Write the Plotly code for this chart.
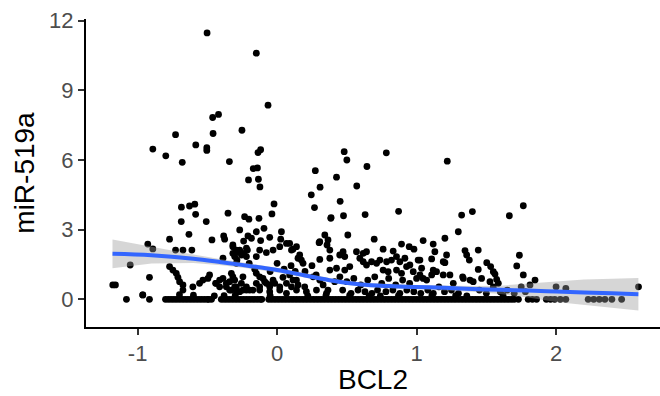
import plotly.graph_objects as go

# ---- points (BCL2 on x, miR-519a on y) ----
x_high = [-0.502, -0.149, -0.065, -0.42, -0.462, -0.728, -0.459, -0.252, -0.891, -0.798,
          -0.68, -0.583, -0.504, -0.504, -0.342, -0.137, -0.118, -0.171, -0.141, -0.205,
          -0.134, -0.123, 0.481, 0.5, 0.644, 0.783, 1.22, 0.274, 0.426, 0.308,
          0.571, 0.245, 0.452, 0.268, 0.387, 0.476, 0.631, 0.871, 1.323, 1.4,
          1.665, 1.765, -0.686, -0.628, -0.59, -0.022]
y_high = [11.47, 10.60, 8.36, 7.96, 7.83, 7.09, 7.14, 7.28, 6.47, 6.18,
          5.9, 6.65, 6.53, 6.41, 5.93, 6.32, 6.44, 5.63, 5.66, 5.14,
          5.17, 4.84, 6.36, 6.0, 5.72, 6.31, 5.95, 5.54, 5.26, 4.83,
          4.88, 4.5, 4.22, 3.95, 3.52, 3.6, 3.65, 3.79, 3.63, 3.78,
          3.6, 4.03, 3.97, 4.02, 4.1, 4.11]

x_mid = [-0.584, -0.687, -0.508, -0.352, -0.233, -0.202, -0.13, -0.037, -0.632, -0.771,
         -0.467, -0.383, -0.376, -0.268, -0.209, -0.149, -0.094, 0.031, -0.24, -0.184,
         -0.118, -0.053, -0.927, -0.891, -0.728, -0.675, -0.611, -0.317, -0.292, -0.268,
         -0.238, -0.213, -0.149, -0.125, -0.077, -0.029, 0.019, 0.067, 0.103, 0.139,
         -1.053, -0.388, -0.292, -0.317, -0.281, -0.317, -0.304, -0.288, 0.385, 0.026,
         0.342, 0.301, 0.365, 0.378, 0.507, 0.696, 1.047, 1.203, 1.299, 1.119,
         1.131, 1.191, 1.215, 0.114, 0.306, 0.358, 0.162, 0.174, 0.15, 0.186,
         0.306, 0.378, -0.256, -0.22, -0.22, 0.76, 0.832, 0.892, 0.947, 0.981,
         1.347, 1.359, 1.378, 1.442, 1.024, 1.108, 1.203, 1.503, 1.737, 0.449,
         0.473, 0.485, 0.569, 0.617, 0.641, 0.593, 0.617, 0.677, 0.713, 0.737,
         0.785, 0.82, 0.856, 0.88, 0.916, 0.952, 1.011, -0.2, 0.0, 0.1,
         0.25, 0.09]
y_mid = [3.66, 3.35, 3.35, 3.71, 3.56, 3.45, 3.49, 3.68, 2.8, 2.59,
         2.56, 2.73, 2.59, 2.99, 2.73, 2.91, 3.06, 2.91, 2.51, 2.63,
         2.53, 2.67, 2.38, 2.17, 2.12, 2.12, 2.12, 2.27, 2.12, 2.12,
         1.98, 2.12, 1.84, 2.12, 2.01, 2.12, 2.27, 2.41, 2.12, 2.27,
         1.48, 1.77, 1.55, 2.34, 2.05, 1.98, 1.84, 1.69, 3.49, 2.59,
         2.77, 2.44, 2.56, 2.12, 2.77, 2.59, 2.53, 2.63, 2.91, 2.38,
         2.05, 1.62, 1.91, 2.16, 2.48, 2.34, 1.91, 1.69, 1.77, 1.55,
         1.72, 1.77, 1.91, 1.84, 2.2, 2.16, 2.08, 2.38, 2.27, 2.16,
         2.1, 1.91, 1.69, 2.12, 1.69, 1.74, 1.58, 1.58, 1.9, 1.91,
         2.05, 1.84, 2.05, 1.98, 2.05, 1.77, 1.62, 1.62, 1.55, 1.69,
         1.62, 1.69, 1.84, 1.62, 1.77, 1.48, 1.69, 1.55, 1.55, 1.45,
         1.45, 2.41]

x_low = [-1.178, -1.159, -0.963, -0.915, -0.771, -0.747, -0.723, -0.711, -0.699, -0.675,
         -0.675, -0.604, -0.556, -0.532, -0.496, -0.484, -0.441, -0.412, -0.388, -0.364,
         -0.34, -0.317, -0.304, -0.34, -0.292, -0.256, -0.245, -0.328, -0.304, -0.436,
         -0.412, -0.364, -0.328, -0.292, -0.268, -0.22, -0.197, -0.149, -0.125, -0.089,
         -0.053, -0.017, 0.019, 0.067, 0.103, 0.139, -0.245, -0.149, -0.125, -0.101,
         -0.077, -0.053, -0.029, 0.042, 0.09, 0.114, 0.15, 0.198, 0.258, 0.306,
         0.33, 0.365, 0.413, -0.22, -0.173, -0.125, -0.053, 0.019, 0.067, 0.139,
         0.21, 0.282, 0.354, -0.16, -0.05, 0.05, 0.13, 0.2, 0.28, 0.378,
         0.426, 0.485, 0.521, 0.76, 0.796, 0.856, 0.892, 0.976, 1.024, 0.641,
         0.928, 1.036, 0.45, 0.5, 0.55, 0.6, 0.65, 0.7, 0.75, 0.8,
         0.85, 0.9, 0.95, 1.0, 0.47, 0.53, 0.58, 0.63, 0.68, 0.72,
         0.78, 0.83, 0.88, 0.93, 0.98, 1.03, 1.119, 1.143, 1.108, 1.191,
         1.239, 1.335, 1.383, 1.466, 1.562, 1.586, 1.047, 1.072, 1.263, 1.526,
         1.531, 1.442, 1.55, 1.574, 1.765, 1.849, 1.813, 1.33, 1.406, 1.718,
         1.08, 1.12, 1.16, 1.2, 1.25, 1.3, 1.45, 1.5, 1.55, 1.6,
         1.65, 1.7, 1.75, 1.78, 2.0, 2.07, 2.591, -0.6, -0.45, -0.3,
         -0.05, 0.22, 0.52, 0.66, 0.87, 1.11, 1.36, 1.62, -0.7, -0.38,
         0.35, 0.74, 1.28, -0.963]
y_low = [0.62, 0.62, 0.19, 0.95, 1.41, 1.26, 1.12, 0.95, 0.76, 0.62,
         0.4, 0.54, 0.69, 0.83, 0.9, 1.05, 0.69, 0.83, 0.9, 0.69,
         0.76, 0.97, 0.54, 0.4, 0.4, 0.69, 0.4, 1.12, 0.83, 0.69,
         0.54, 0.54, 0.4, 0.54, 0.33, 0.54, 0.4, 0.69, 0.54, 0.76,
         0.62, 0.69, 0.54, 0.69, 0.54, 0.83, 0.97, 1.12, 0.97, 0.9,
         0.69, 0.54, 0.83, 0.95, 1.05, 0.83, 0.62, 0.54, 0.97, 0.83,
         0.62, 0.4, 0.76, 0.4, 0.4, 0.4, 0.33, 0.4, 0.26, 0.4,
         0.33, 0.4, 0.26, 1.3, 1.2, 1.3, 1.2, 1.2, 1.05, 1.26,
         1.34, 1.26, 1.41, 1.26, 1.19, 1.26, 1.12, 1.19, 1.05, 1.48,
         1.41, 1.34, 0.97, 0.76, 0.9, 0.62, 0.83, 0.97, 0.69, 0.9,
         0.62, 0.83, 0.69, 0.9, 0.4, 0.26, 0.4, 0.33, 0.26, 0.4,
         0.33, 0.4, 0.26, 0.4, 0.33, 0.26, 1.26, 1.19, 1.05, 1.05,
         1.05, 0.9, 0.83, 0.9, 1.09, 0.69, 0.9, 0.83, 0.69, 0.76,
         1.41, 1.29, 1.19, 0.86, 1.05, 0.83, 0.62, 0.97, 0.76, 1.44,
         0.4, 0.26, 0.54, 0.33, 0.4, 0.26, 0.4, 0.26, 0.54, 0.33,
         0.4, 0.26, 0.54, 0.33, 0.54, 0.47, 0.54, 0.18, 0.15, 0.18,
         0.16, 0.15, 0.17, 0.15, 0.16, 0.18, 0.15, 0.17, 0.2, 0.16,
         0.16, 0.15, 0.16, 0.19]

x_zero = [-1.08, -0.915,
          -0.80, -0.78, -0.76, -0.74, -0.72, -0.70, -0.68, -0.66, -0.64, -0.62, -0.60,
          -0.58, -0.56, -0.54, -0.52, -0.50, -0.49, -0.47,
          -0.40, -0.38, -0.36, -0.34, -0.32, -0.30, -0.28, -0.26, -0.24, -0.22, -0.20,
          -0.18, -0.16, -0.14, -0.12, -0.11,
          -0.06, -0.04, -0.02, 0.0, 0.02, 0.04, 0.06, 0.08, 0.10, 0.12, 0.14, 0.16,
          0.18, 0.20, 0.22, 0.24, 0.26, 0.28, 0.30, 0.32, 0.34, 0.36, 0.38, 0.40,
          0.42, 0.44, 0.46, 0.48, 0.50, 0.52, 0.54, 0.56, 0.58, 0.60, 0.62, 0.64,
          0.66, 0.68, 0.70, 0.72, 0.74, 0.76, 0.78, 0.80, 0.82, 0.84, 0.86, 0.88,
          0.90, 0.92, 0.94, 0.96, 0.98, 1.00, 1.02, 1.04, 1.06, 1.08, 1.10, 1.12,
          1.14, 1.16, 1.18, 1.20, 1.22, 1.24, 1.26, 1.28, 1.30, 1.32, 1.34, 1.36,
          1.38, 1.40, 1.42, 1.44, 1.46, 1.48, 1.50, 1.52, 1.54, 1.56, 1.58, 1.60,
          1.62, 1.64, 1.66, 1.68, 1.70, 1.73,
          1.80, 1.83, 1.86, 1.93, 1.96, 1.99, 2.03, 2.07,
          2.23, 2.27, 2.31, 2.35, 2.40, 2.47]
y_zero = [0.0] * len(x_zero)

# ---- loess smooth and its confidence band ----
smooth_x = [-1.18, -0.9, -0.6, -0.4, -0.2, 0.0, 0.2, 0.4, 0.6, 0.8, 1.0,
            1.2, 1.4, 1.6, 1.8, 2.0, 2.2, 2.4, 2.59]
smooth_y = [1.96, 1.9, 1.75, 1.6, 1.44, 1.26, 1.03, 0.8, 0.64, 0.57, 0.53,
            0.5, 0.45, 0.41, 0.38, 0.34, 0.3, 0.26, 0.22]
smooth_se = [0.62, 0.36, 0.18, 0.13, 0.11, 0.1, 0.1, 0.09, 0.09, 0.09, 0.09,
             0.1, 0.12, 0.18, 0.3, 0.45, 0.55, 0.63, 0.7]

xs = x_zero + x_low + x_mid + x_high
ys = y_zero + y_low + y_mid + y_high

fig = go.Figure()
fig.add_trace(go.Scatter(x=xs, y=ys, mode="markers",
                         marker=dict(color="black", size=6.8, line=dict(width=0)),
                         showlegend=False, hoverinfo="skip"))
upper = [m + s for m, s in zip(smooth_y, smooth_se)]
lower = [m - s for m, s in zip(smooth_y, smooth_se)]
fig.add_trace(go.Scatter(x=smooth_x + smooth_x[::-1], y=upper + lower[::-1],
                         mode="lines", fill="toself", fillcolor="rgba(153,153,153,0.4)",
                         line=dict(width=0), showlegend=False, hoverinfo="skip"))
fig.add_trace(go.Scatter(x=smooth_x, y=smooth_y, mode="lines",
                         line=dict(color="#3366FF", width=4, shape="spline"),
                         showlegend=False, hoverinfo="skip"))

font_fam = "Liberation Sans, Arial, sans-serif"
fig.update_layout(
    width=660, height=396,
    margin=dict(l=86, r=0, t=19, b=69),
    paper_bgcolor="white", plot_bgcolor="white",
    font=dict(family=font_fam),
    xaxis=dict(range=[-1.37, 2.745], tickvals=[-1, 0, 1, 2], ticktext=["-1", "0", "1", "2"],
               showgrid=False, zeroline=False, showline=True, linecolor="black", linewidth=2,
               ticks="outside", ticklen=6, tickwidth=1.5, tickcolor="#333333",
               tickfont=dict(size=22, color="#4D4D4D", family=font_fam),
               title=dict(text="BCL2", font=dict(size=28, color="black", family=font_fam), standoff=4)),
    yaxis=dict(range=[-1.19, 12.07], tickvals=[0, 3, 6, 9, 12],
               showgrid=False, zeroline=False, showline=True, linecolor="black", linewidth=2,
               ticks="outside", ticklen=6, tickwidth=1.5, tickcolor="#333333",
               tickfont=dict(size=22, color="#4D4D4D", family=font_fam),
               title=dict(text="miR-519a", font=dict(size=28, color="black", family=font_fam), standoff=6)),
)
fig.write_html("out.html")
